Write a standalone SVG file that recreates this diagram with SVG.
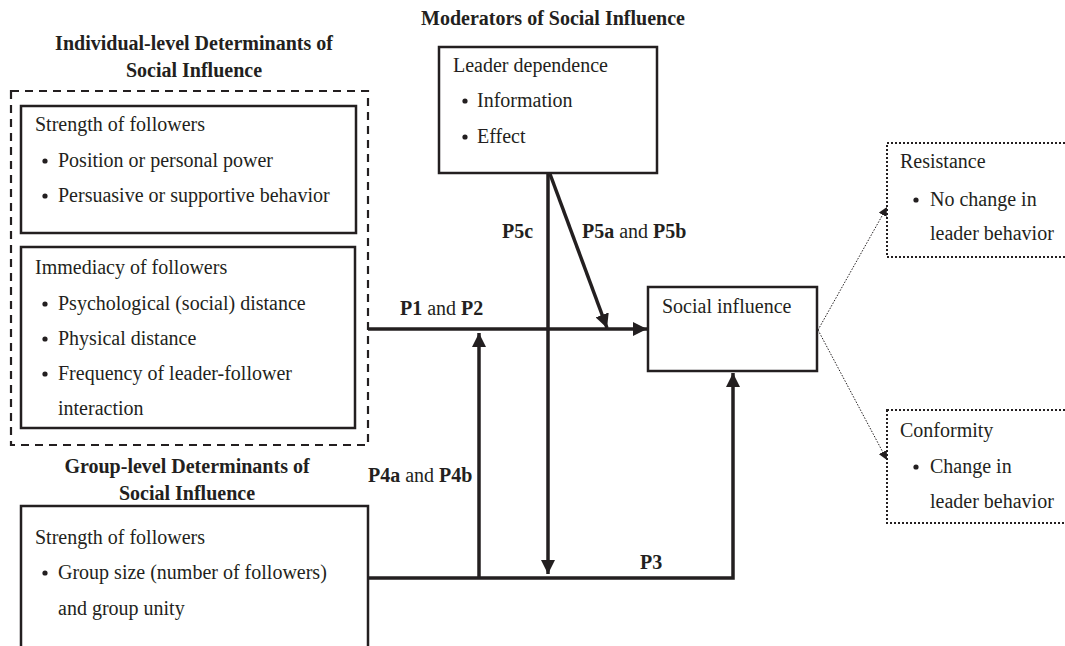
<svg xmlns="http://www.w3.org/2000/svg" width="1065" height="646" viewBox="0 0 1065 646">
<defs>
<style>
text{font-family:"Liberation Serif","Times New Roman",serif;font-size:20px;fill:#231f20}
.b{font-weight:bold}
.t{font-weight:bold;text-anchor:middle}
.box{fill:#fff;stroke:#231f20;stroke-width:2.5}
.dash{fill:none;stroke:#231f20;stroke-width:2.2;stroke-dasharray:8,6}
.dot{fill:#fff;stroke:#231f20;stroke-width:2;stroke-dasharray:2,2}
.c{fill:none;stroke:#231f20;stroke-width:3.5}
.d{fill:none;stroke:#231f20;stroke-width:1;stroke-dasharray:1.5,1.5}
.bul{fill:#231f20}
</style>
<marker id="ah" viewBox="0 0 10 10" refX="10" refY="5" markerWidth="4" markerHeight="4" orient="auto" markerUnits="strokeWidth"><path d="M0,0 L10,5 L0,10 z" fill="#231f20"/></marker>
<marker id="ahs" viewBox="0 0 10 10" refX="10" refY="5" markerWidth="9" markerHeight="9" orient="auto" markerUnits="strokeWidth"><path d="M0,0 L10,5 L0,10 z" fill="#231f20"/></marker>
</defs>

<g id="individual">
<text class="t" x="194" y="50">Individual-level Determinants of</text>
<text class="t" x="194" y="77">Social Influence</text>
<rect class="dash" x="11" y="91" width="357" height="354"/>
<rect class="box" x="21" y="106" width="335" height="127"/>
<text x="35" y="131">Strength of followers</text>
<circle class="bul" cx="45" cy="161" r="2.6"/><text x="58" y="167">Position or personal power</text>
<circle class="bul" cx="45" cy="196" r="2.6"/><text x="58" y="202">Persuasive or supportive behavior</text>
<rect class="box" x="21" y="247" width="334" height="181"/>
<text x="35" y="274">Immediacy of followers</text>
<circle class="bul" cx="45" cy="304" r="2.6"/><text x="58" y="310">Psychological (social) distance</text>
<circle class="bul" cx="45" cy="339" r="2.6"/><text x="58" y="345">Physical distance</text>
<circle class="bul" cx="45" cy="374" r="2.6"/><text x="58" y="380">Frequency of leader-follower</text>
<text x="58" y="415">interaction</text>
</g>

<g id="group">
<text class="t" x="187" y="473">Group-level Determinants of</text>
<text class="t" x="187" y="500">Social Influence</text>
<path class="box" d="M21,650 L21,506 L368,506 L368,650"/>
<text x="35" y="544">Strength of followers</text>
<circle class="bul" cx="45" cy="573" r="2.6"/><text x="58" y="579">Group size (number of followers)</text>
<text x="58" y="615">and group unity</text>
</g>

<g id="moderators">
<text class="t" x="553" y="25">Moderators of Social Influence</text>
<rect class="box" x="439" y="47" width="218" height="126"/>
<text x="453" y="72">Leader dependence</text>
<circle class="bul" cx="465" cy="101" r="2.6"/><text x="477" y="107">Information</text>
<circle class="bul" cx="465" cy="137" r="2.6"/><text x="477" y="143">Effect</text>
</g>

<g id="social-influence">
<rect class="box" x="648" y="287" width="169" height="84"/>
<text x="662" y="313">Social influence</text>
</g>

<g id="resistance">
<rect class="dot" x="887" y="143" width="190" height="114"/>
<text x="900" y="168">Resistance</text>
<circle class="bul" cx="916" cy="200" r="2.6"/><text x="930" y="206">No change in</text>
<text x="930" y="240">leader behavior</text>
</g>

<g id="conformity">
<rect class="dot" x="887" y="410" width="190" height="113"/>
<text x="900" y="437">Conformity</text>
<circle class="bul" cx="916" cy="467" r="2.6"/><text x="930" y="473">Change in</text>
<text x="930" y="508">leader behavior</text>
</g>

<g id="connectors">
<path class="c" d="M368,329 L647,329" marker-end="url(#ah)"/>
<path class="c" d="M550,174 L607,328" marker-end="url(#ah)"/>
<path class="c" d="M548,174 L548,574" marker-end="url(#ah)"/>
<path class="c" d="M368,578 L733,578 L733,373" marker-end="url(#ah)"/>
<path class="c" d="M479,578 L479,333" marker-end="url(#ah)"/>
<path class="d" d="M818,330 L887,207" marker-end="url(#ahs)"/>
<path class="d" d="M818,330 L887,460" marker-end="url(#ahs)"/>
<text x="400" y="315"><tspan class="b">P1</tspan> and <tspan class="b">P2</tspan></text>
<text class="b" x="502" y="238">P5c</text>
<text x="582" y="238"><tspan class="b">P5a</tspan> and <tspan class="b">P5b</tspan></text>
<text x="368" y="482"><tspan class="b">P4a</tspan> and <tspan class="b">P4b</tspan></text>
<text class="b" x="640" y="569">P3</text>
</g>
</svg>
